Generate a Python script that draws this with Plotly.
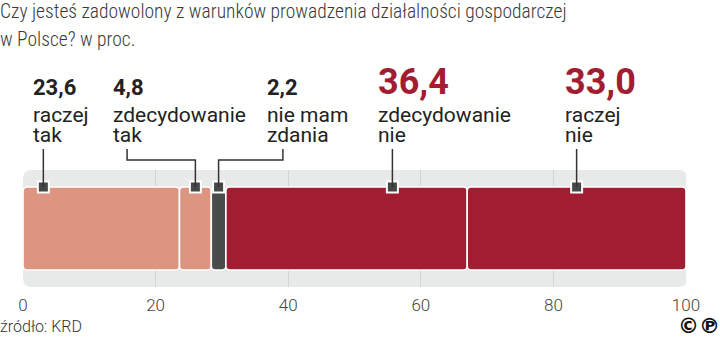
import plotly.graph_objects as go

# Survey answers, in the order they are stacked along the bar (percent)
categories = ["raczej tak", "zdecydowanie tak", "nie mam zdania", "zdecydowanie nie", "raczej nie"]
values = [23.6, 4.8, 2.2, 36.4, 33.0]
label_lines = [["raczej", "tak"], ["zdecydowanie", "tak"], ["nie mam", "zdania"],
               ["zdecydowanie", "nie"], ["raczej", "nie"]]
tick_values = [0, 20, 40, 60, 80, 100]

title_lines = ["Czy jesteś zadowolony z warunków prowadzenia działalności gospodarczej",
               "w Polsce? w proc."]
source_text = "źródło: KRD"

# ---- styling / layout settings -------------------------------------------
W, H = 720, 337
M_L, M_R, M_T, M_B = 23, 34, 170, 50
PLOT_W = W - M_L - M_R
PLOT_H = H - M_T - M_B
BAR_W = 0.709                      # bar thickness in y units (range -0.5..0.5)

seg_colors = ["#db9580", "#db9580", "#4a4b4b", "#a21d31", "#a21d31"]
num_colors = ["#222222", "#222222", "#222222", "#a21d31", "#a21d31"]
num_sizes = [22, 22, 22, 36, 36]
# where the pointer meets each segment, as a fraction of the segment length
anchor_frac = [0.13, 0.5, 0.5, 0.69, 0.5]
# label placement (x in axis units) and leader geometry (pixels from top)
label_left = [1.5, 13.6, 36.8, 53.5, 81.7]
leader_x = [3.0, 15.7, 39.2, 55.8, 83.6]
LEADER_TOP, ELBOW_Y = 149, 160
NUM_BASE = 93                      # baseline of the value labels
LINE_BASES = [120, 140]            # baselines of the two description lines
TITLE_BASES = [15.5, 44]

NUM_FONT = "Roboto"
TXT_FONT = "Roboto"
THIN_FONT = "Roboto Condensed"


def py(p):
    """pixel row (from top of the page) -> paper y"""
    return (M_T + PLOT_H - p) / PLOT_H


def px(p):
    """pixel column -> paper x"""
    return (p - M_L) / PLOT_W


def box_bottom(baseline, size):
    """bottom of an annotation box whose text sits on the given baseline"""
    return baseline + 5.8 + 0.167 * size


starts = []
acc = 0.0
for v in values:
    starts.append(acc)
    acc += v
anchors = [s + f * v for s, v, f in zip(starts, values, anchor_frac)]
bar_top = BAR_W / 2
bar_top_px = M_T + PLOT_H / 2 - BAR_W / 2 * PLOT_H

fig = go.Figure()

for cat, v, s, c in zip(categories, values, starts, seg_colors):
    fig.add_trace(go.Bar(
        y=[0], x=[v], base=[s], orientation="h", width=BAR_W, name=cat,
        marker=dict(color=c, line=dict(color="white", width=1.6), cornerradius=4),
        hoverinfo="name+x",
    ))

# pointer squares on the top edge of each segment
fig.add_trace(go.Scatter(
    x=anchors, y=[bar_top] * len(anchors), mode="markers", cliponaxis=False,
    marker=dict(symbol="square", size=11, color="#464848",
                line=dict(color="white", width=2)),
    hoverinfo="skip",
))

shapes = []
# rounded light band behind the bar
rx = 9 / PLOT_W * 100
ry = 9 / PLOT_H
x0, x1, y0, y1 = 0, 100.2, 0, 1
band = (f"M {x0 + rx} {y0} L {x1 - rx} {y0} Q {x1} {y0} {x1} {y0 + ry} "
        f"L {x1} {y1 - ry} Q {x1} {y1} {x1 - rx} {y1} L {x0 + rx} {y1} "
        f"Q {x0} {y1} {x0} {y1 - ry} L {x0} {y0 + ry} Q {x0} {y0} {x0 + rx} {y0} Z")
shapes.append(dict(type="path", path=band, xref="x", yref="paper",
                   fillcolor="#e8e9e9", line=dict(width=0), layer="below"))

# leader lines from labels down to the pointer squares
for lx, ax in zip(leader_x, anchors):
    if abs(lx - ax) < 0.3:
        path = f"M {ax} {py(LEADER_TOP)} L {ax} {py(bar_top_px)}"
    else:
        path = (f"M {lx} {py(LEADER_TOP)} L {lx} {py(ELBOW_Y)} L {ax} {py(ELBOW_Y)} "
                f"L {ax} {py(bar_top_px)}")
    shapes.append(dict(type="path", path=path, xref="x", yref="paper",
                       line=dict(color="#333333", width=1.5), layer="above"))

annotations = []
for v, lines, lx, col, size in zip(values, label_lines, label_left, num_colors, num_sizes):
    annotations.append(dict(
        x=lx, y=py(box_bottom(NUM_BASE, size)), xref="x", yref="paper",
        xanchor="left", yanchor="bottom",
        text=f"<b>{v:.1f}</b>".replace(".", ","), showarrow=False,
        font=dict(family=NUM_FONT, size=size, color=col), xshift=-2,
    ))
    for line, base in zip(lines, LINE_BASES):
        annotations.append(dict(
            x=lx, y=py(box_bottom(base, 21)), xref="x", yref="paper",
            xanchor="left", yanchor="bottom", text=line, showarrow=False,
            font=dict(family=TXT_FONT, size=21, color="#222222"), xshift=-2,
        ))

for line, base in zip(title_lines, TITLE_BASES):
    annotations.append(dict(
        x=px(0), y=py(box_bottom(base, 19.5)), xref="paper", yref="paper",
        xanchor="left", yanchor="bottom", text=line, showarrow=False,
        font=dict(family=THIN_FONT, size=19.5, color="#3a3a3a", weight=300), xshift=-2,
    ))
annotations.append(dict(
    x=px(0), y=py(326), xref="paper", yref="paper",
    xanchor="left", yanchor="middle", text=source_text, showarrow=False,
    font=dict(family="Roboto", size=16, color="#333333", weight=300), xshift=-2,
))
annotations.append(dict(
    x=px(720), y=py(325.5), xref="paper", yref="paper", xanchor="right", yanchor="middle",
    text="<b>©℗</b>", showarrow=False,
    font=dict(family="DejaVu Sans", size=21, color="#111111"), xshift=2,
))

fig.update_layout(
    width=W, height=H, autosize=False,
    margin=dict(l=M_L, r=M_R, t=M_T, b=M_B, pad=0),
    paper_bgcolor="white", plot_bgcolor="rgba(0,0,0,0)",
    barmode="overlay", showlegend=False,
    shapes=shapes, annotations=annotations,
    xaxis=dict(range=[0, 100], tickvals=tick_values, ticktext=[str(t) for t in tick_values],
               showgrid=True, gridcolor="#d3d5d5", gridwidth=1, zeroline=False,
               showline=False, ticks="", ticklabelstandoff=6,
               tickfont=dict(family="Roboto", size=17, color="#444444", weight=300),
               fixedrange=True),
    yaxis=dict(range=[-0.5, 0.5], visible=False, fixedrange=True),
)

fig.write_html("out.html")
